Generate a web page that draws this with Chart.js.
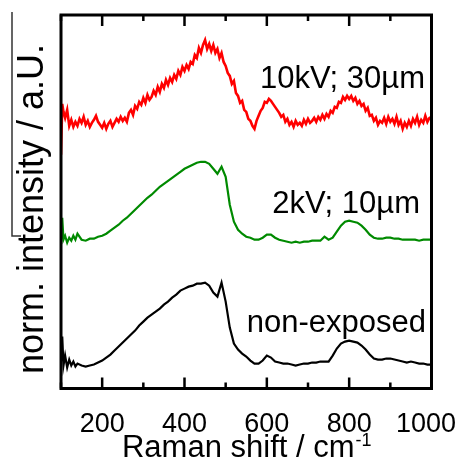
<!DOCTYPE html>
<html>
<head>
<meta charset="utf-8">
<script src="https://cdn.jsdelivr.net/npm/chart.js@4.4.1/dist/chart.umd.min.js"></script>
<style>
  html, body { margin: 0; padding: 0; background: #fff; }
  #wrap { width: 467px; height: 469px; }
</style>
</head>
<body>
<div id="wrap"><canvas id="grafico" width="467" height="469"></canvas></div>
<script>
// Raman shift (cm-1) of the 10kV spectrum (finer sampling, it is noisier)
const ramanShiftRed = [100, 103, 106, 110, 115, 120, 125, 130, 135, 140,
  145, 150, 155, 160, 165, 170, 175, 180, 185, 190,
  195, 200, 205, 210, 215, 220, 225, 230, 235, 240,
  245, 250, 255, 260, 265, 270, 275, 280, 285, 290,
  295, 300, 305, 310, 315, 320, 325, 330, 335, 340,
  345, 350, 355, 360, 365, 370, 375, 380, 385, 390,
  395, 400, 405, 410, 415, 420, 425, 430, 435, 440,
  445, 450, 455, 460, 465, 470, 475, 480, 485, 490,
  495, 500, 505, 510, 515, 520, 525, 530, 535, 540,
  545, 550, 555, 560, 565, 570, 575, 580, 585, 590,
  595, 600, 605, 610, 615, 620, 625, 630, 635, 640,
  645, 650, 655, 660, 665, 670, 675, 680, 685, 690,
  695, 700, 705, 710, 715, 720, 725, 730, 735, 740,
  745, 750, 755, 760, 765, 770, 775, 780, 785, 790,
  795, 800, 805, 810, 815, 820, 825, 830, 835, 840,
  845, 850, 855, 860, 865, 870, 875, 880, 885, 890,
  895, 900, 905, 910, 915, 920, 925, 930, 935, 940,
  945, 950, 955, 960, 965, 970, 975, 980, 985, 990,
  995, 1000];

// normalized intensity (a.U., offset) 10kV; 30µm
const int10kV = [234, 285, 277, 271, 279, 263, 269, 262, 267, 263,
  270, 266, 272, 264, 268, 262, 266, 269, 273, 267,
  264, 261, 266, 260, 265, 268, 262, 266, 270, 267,
  272, 268, 271, 267, 276, 279, 274, 283, 280, 287,
  284, 291, 286, 294, 289, 292, 298, 294, 302, 297,
  305, 301, 309, 304, 311, 307, 314, 310, 318, 314,
  322, 318, 324, 320, 327, 325, 334, 331, 341, 336,
  344, 349, 340, 345, 338, 344, 336, 340, 331, 336,
  327, 323, 316, 313, 305, 308, 296, 293, 286, 288,
  279, 277, 270, 268, 263, 260, 268, 273, 278, 281,
  287, 286, 290, 288, 285, 282, 279, 276, 272, 274,
  267, 270, 264, 267, 262, 268, 264, 266, 263, 269,
  265, 270, 266, 268, 271, 267, 272, 269, 274, 270,
  275, 272, 278, 276, 282, 281, 287, 286, 292, 289,
  293, 290, 293, 288, 291, 285, 288, 283, 285, 278,
  281, 273, 274, 268, 271, 264, 268, 266, 271, 265,
  272, 267, 270, 265, 272, 264, 268, 260, 266, 262,
  268, 263, 270, 266, 272, 264, 269, 266, 273, 267,
  271, 272];

// Raman shift (cm-1) of the other two spectra
const ramanShift = [100, 103, 106, 110, 115, 120, 125, 130, 135, 140,
  150, 160, 170, 180, 190, 200, 210, 220, 230, 240, 250, 260, 270, 280, 290,
  300, 310, 320, 330, 340, 350, 360, 370, 380, 390, 400, 410, 420, 430, 440,
  450, 460, 470, 480, 490, 500, 510, 520, 530, 540, 550, 560, 570, 580, 590,
  600, 610, 620, 630, 640, 650, 660, 670, 680, 690, 700, 710, 720, 730, 740,
  750, 760, 770, 780, 790, 800, 810, 820, 830, 840, 850, 860, 870, 880, 890,
  900, 910, 920, 930, 940, 950, 960, 970, 980, 990, 1000];

// 2kV; 10µm
const int2kV = [147, 171, 149, 153, 146, 151, 148, 153, 149, 155,
  149, 148, 150, 150, 152, 153, 155, 158, 161, 164, 168, 171, 175, 179, 183,
  187, 191, 194, 198, 202, 205, 208, 211, 214, 217, 220, 222, 224, 226, 227,
  227, 225, 220, 215, 222, 212, 184, 167, 159, 155, 152, 151, 149, 149, 151,
  154, 154, 151, 149, 148, 147, 146, 147, 146, 147, 147, 148, 148, 148, 152,
  149, 151, 157, 163, 167, 168, 167, 166, 163, 159, 154, 151, 150, 150, 151,
  151, 150, 150, 149, 149, 149, 149, 148, 149, 149, 149];

// non-exposed
const intNonExp = [27, 52, 23, 33, 21, 29, 23, 27, 22, 25,
  23, 22, 23, 24, 26, 28, 31, 34, 38, 42, 46, 50, 54, 58, 63,
  67, 71, 74, 77, 80, 84, 87, 91, 94, 98, 100, 102, 103, 105, 105,
  106, 103, 96, 92, 106, 87, 61, 45, 39, 35, 32, 28, 25, 25, 28,
  33, 31, 27, 26, 25, 25, 24, 23, 24, 25, 25, 26, 26, 27, 27,
  27, 33, 40, 45, 47, 48, 47, 46, 43, 39, 34, 30, 29, 29, 30,
  30, 29, 28, 27, 26, 27, 26, 25, 25, 24, 24];

const seriesLabels = ['10kV; 30µm', '2kV; 10µm', 'non-exposed'];
const seriesColors = ['#ff0000', '#008a00', '#000000'];
const xTickLabels = [200, 400, 600, 800, 1000];

const FONT = '"Liberation Sans", Arial, sans-serif';

function puntos(xs, valores) {
    return xs.map((x, i) => ({ x: x, y: valores[i] }));
}

// Marco, ticks hacia dentro, textos
const decoracion = {
    id: 'decoracion',
    afterDatasetsDraw(chart) {
        const ctx = chart.ctx;
        const a = chart.chartArea;
        const xs = chart.scales.x;
        ctx.save();

        // ticks (dentro del marco, arriba y abajo)
        ctx.strokeStyle = '#000';
        ctx.lineWidth = 2.5;
        xs.ticks.forEach(t => {
            const px = xs.getPixelForValue(t.value);
            const largo = xTickLabels.includes(t.value) ? 11 : 6;
            ctx.beginPath();
            ctx.moveTo(px, a.bottom);
            ctx.lineTo(px, a.bottom - largo);
            ctx.moveTo(px, a.top);
            ctx.lineTo(px, a.top + largo);
            ctx.stroke();
        });

        // marco
        ctx.lineWidth = 3;
        ctx.strokeRect(a.left, a.top, a.right - a.left, a.bottom - a.top);

        // etiquetas del eje x
        ctx.fillStyle = '#000';
        ctx.font = '27px ' + FONT;
        ctx.textAlign = 'center';
        ctx.textBaseline = 'alphabetic';
        xTickLabels.forEach(v => {
            let px = xs.getPixelForValue(v);
            const w = ctx.measureText(String(v)).width;
            if (px + w / 2 > 456) px = 456 - w / 2;
            ctx.fillText(String(v), px, 432);
        });

        // titulo x con superindice
        ctx.font = '31px ' + FONT;
        const base = 'Raman shift / cm';
        const wb = ctx.measureText(base).width;
        ctx.font = '18px ' + FONT;
        const sup = '-1';
        const ws = ctx.measureText(sup).width;
        const x0 = (a.left + a.right) / 2 - (wb + ws) / 2;
        ctx.textAlign = 'left';
        ctx.font = '31px ' + FONT;
        ctx.fillText(base, x0, 457);
        ctx.font = '18px ' + FONT;
        ctx.fillText(sup, x0 + wb + 1, 446);

        // titulo y
        ctx.save();
        ctx.translate(43, 209);
        ctx.rotate(-Math.PI / 2);
        ctx.font = '36px ' + FONT;
        ctx.textAlign = 'center';
        ctx.fillText('norm. intensity / a.U.', 0, 0);
        ctx.restore();

        // linea junto al titulo y
        ctx.strokeStyle = '#333';
        ctx.lineWidth = 1.5;
        ctx.beginPath();
        ctx.moveTo(12, 12);
        ctx.lineTo(12, 236);
        ctx.lineTo(21, 236);
        ctx.stroke();

        // nombres de las curvas
        ctx.fillStyle = '#000';
        ctx.font = '31px ' + FONT;
        ctx.textAlign = 'right';
        ctx.fillText(seriesLabels[0], 425, 88);
        ctx.fillText(seriesLabels[1], 420, 213);
        ctx.fillText(seriesLabels[2], 426, 332);

        ctx.restore();
    }
};

const series = [
    { xs: ramanShiftRed, ys: int10kV, ancho: 2.6 },
    { xs: ramanShift, ys: int2kV, ancho: 2.2 },
    { xs: ramanShift, ys: intNonExp, ancho: 2.2 }
];

new Chart(document.getElementById('grafico').getContext('2d'), {
    type: 'line',
    data: {
        datasets: series.map((s, i) => ({
            label: seriesLabels[i],
            data: puntos(s.xs, s.ys),
            borderColor: seriesColors[i],
            borderWidth: s.ancho,
            pointRadius: 0,
            tension: 0,
            fill: false
        }))
    },
    options: {
        responsive: false,
        animation: false,
        devicePixelRatio: 1,
        layout: { padding: { left: 61, right: 35.5, top: 15, bottom: 80.5 } },
        plugins: {
            legend: { display: false },
            tooltip: { enabled: false }
        },
        scales: {
            x: {
                type: 'linear',
                display: false,
                min: 100,
                max: 1000,
                ticks: { stepSize: 50 }
            },
            y: {
                display: false,
                min: 0,
                max: 374
            }
        }
    },
    plugins: [decoracion]
});
</script>
</body>
</html>
